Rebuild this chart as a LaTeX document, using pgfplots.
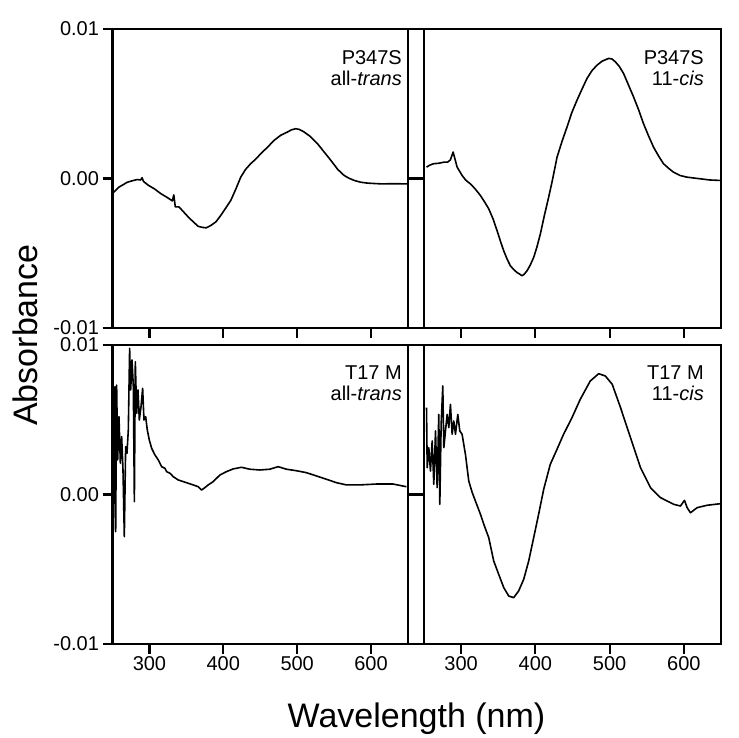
\documentclass[border=0pt]{standalone}
\usepackage{fontspec}
\setmainfont{Liberation Sans}
\usepackage{pgfplots}
\pgfplotsset{compat=1.18}

\pgfplotsset{
  panel/.style={
    scale only axis, height=299pt,
    xmin=250, xmax=650, ymin=-0.01, ymax=0.01,
    xtick={300,400,500,600}, ytick={-0.01,0,0.01},
    scaled y ticks=false,
    tick align=outside, major tick length=10pt,
    xtick pos=bottom,
    axis line style={line width=2.8pt},
    tick style={line width=2.2pt, black},
    tick label style={font=\fontsize{20}{24}\selectfont},
    xticklabel style={inner sep=2pt},
  },
  leftpanel/.style={panel, width=295.5pt, ytick pos=both, yticklabel pos=left,
    yticklabels={-0.01,0.00,0.01}},
  rightpanel/.style={panel, width=297pt, ytick pos=left, yticklabels={}},
  trace/.style={black, line width=1.6pt, line join=round},
}
\tikzset{
  tag/.style={anchor=north east, align=right, inner sep=0pt,
    font=\fontsize{20}{21}\selectfont},
  frame/.style={line width=2.8pt, line join=miter},
}

\begin{document}
\begin{tikzpicture}[x=1pt, y=1pt]
\useasboundingbox (0,0) rectangle (739,738);

% top left: P347S all-trans
\begin{axis}[leftpanel, name=tl, at={(112.5pt,410pt)}, anchor=south west, xticklabels={}]
\addplot[trace] coordinates {
(251.8,-0.00092) (258.6,-0.00058) (265,-0.00040) (270,-0.00025) (277,-0.00015)
(283.5,-0.00007) (288,-0.00010) (290,0.00005) (292,-0.00020) (299,-0.00047)
(307,-0.0007) (315,-0.001) (325,-0.0013) (331,-0.0015) (333,-0.0011)
(335,-0.0019) (340,-0.0019) (346.7,-0.00226) (353,-0.0026) (360,-0.00293)
(366,-0.0032) (371.6,-0.00327) (377,-0.0033) (382.9,-0.00315) (390,-0.0029)
(396.4,-0.00248) (403,-0.002) (410,-0.00148) (417,-0.0007) (423.6,0.00009)
(430,0.0006) (437,0.00099) (444,0.0013) (450.7,0.00166) (460,0.0021)
(468.7,0.00255) (478,0.0029) (486.9,0.00311) (492,0.00325) (498,0.00333)
(503,0.00328) (509.4,0.00311) (518,0.0028) (527.5,0.00233) (536,0.0018)
(545.6,0.00121) (555,0.0006) (563.6,0.0002) (570,0.00002) (577.2,-0.00013)
(586,-0.00025) (595.3,-0.00031) (613.4,-0.00036) (630,-0.00035) (649.6,-0.00036)
};
\node[tag] at (rel axis cs:1,1) [xshift=-6pt, yshift=-21pt] {P347S\\all-\textit{trans}};
\end{axis}

% top right: P347S 11-cis
\begin{axis}[rightpanel, name=tr, at={(424pt,410pt)}, anchor=south west, xticklabels={}]
\addplot[trace] coordinates {
(253.4,0.00076) (258,0.0009) (263.2,0.00099) (270,0.00102) (276.6,0.00109)
(282,0.0011) (285.6,0.00125) (289.2,0.00177) (294.6,0.00076) (301.4,0.0002)
(306,-0.0001) (312.5,-0.00036) (319,-0.0007) (326,-0.00114) (332,-0.0016)
(337.2,-0.00203) (343,-0.0027) (348.4,-0.00349) (353,-0.0042) (357.3,-0.00483)
(362,-0.0054) (366.3,-0.00584) (371,-0.0061) (375.3,-0.00629) (379,-0.0064)
(382,-0.00651) (385,-0.0064) (388.8,-0.00617) (393,-0.0058) (397.7,-0.00528)
(402,-0.0046) (406.7,-0.00371) (412,-0.0025) (417.9,-0.00125) (423,-0.0001)
(429.2,0.00143) (436,0.0025) (442.6,0.00344) (449,0.0044) (456,0.00523)
(463,0.006) (469.5,0.00669) (476,0.0072) (483,0.00758) (490,0.00785)
(498.6,0.00803) (503,0.008) (507.6,0.00781) (513,0.0075) (518.7,0.00703)
(525,0.0063) (532.2,0.00546) (539,0.0046) (545.6,0.00367) (552,0.0029)
(559.1,0.0021) (566,0.0015) (572.5,0.00099) (579,0.0007) (586,0.00042)
(595,0.0002) (604,0.00009) (621.9,-0.00002) (635,-0.0001) (648.8,-0.00013)
};
\node[tag] at (rel axis cs:1,1) [xshift=-17pt, yshift=-21pt] {P347S\\11-\textit{cis}};
\end{axis}

% bottom left: T17 M all-trans
\begin{axis}[leftpanel, name=bl, at={(112.5pt,94pt)}, anchor=south west,
  xticklabels={300,400,500,600}]
\addplot[trace] coordinates {
(250.2,0.0032) (251.1,-0.00237) (252.4,0.00342) (253.4,0.00721) (254.3,-0.00249)
(255.6,0.00732) (257,0.00231) (258.8,0.0052) (260.6,0.00209) (262.4,0.00387)
(264.2,0.00164) (266,-0.00282) (267.8,0.0032) (269.6,0.00276) (271.4,0.00431)
(273.2,0.00978) (274.6,0.00699) (276.4,0.009) (278.2,0.00721) (279.6,-0.00048)
(280.9,0.00888) (282.7,0.00543) (284.5,0.00699) (286.3,0.00498) (288.6,0.00587)
(290.8,0.0071) (292.6,0.00498) (294.9,0.0052) (297.1,0.00431) (299.8,0.00365)
(303,0.00309) (307.5,0.00264) (312,0.00231) (316.5,0.00186) (321,0.00175)
(323.3,0.00153) (327.8,0.00142) (332.3,0.00119) (339,0.00097) (345.8,0.00086)
(352.6,0.00075) (359.3,0.00064) (366.1,0.00052) (370.6,0.0003) (373.7,0.00041)
(379.6,0.00064) (386.3,0.00086) (395.3,0.0013) (404.3,0.00153) (413.3,0.00171)
(424.6,0.00182) (435.9,0.00169) (449.4,0.00164) (462.9,0.00169) (474.2,0.00186)
(485.5,0.00169) (499,0.00159) (512.5,0.00146) (526.1,0.00124) (539.6,0.00102)
(553.1,0.00079) (566.7,0.00064) (584.7,0.00064) (607.3,0.0007) (629.8,0.0007)
(647.8,0.00052)
};
\node[tag] at (rel axis cs:1,1) [xshift=-6pt, yshift=-21pt] {T17 M\\all-\textit{trans}};
\end{axis}

% bottom right: T17 M 11-cis
\begin{axis}[rightpanel, name=br, at={(424pt,94pt)}, anchor=south west,
  xticklabels={300,400,500,600}]
\addplot[trace] coordinates {
(253.4,0.00581) (254.3,0.00179) (256.5,0.00313) (258.7,0.00157) (261,0.00358)
(263.2,0.00068) (265.5,0.00425) (267.7,0.00046) (269.9,0.00536) (271.3,-0.00066)
(273.1,0.0047) (275.3,0.00726) (276.7,0.00313) (278.9,0.00425) (281.2,0.00536)
(283.4,0.00447) (285.6,0.00603) (287.9,0.00403) (290.1,0.00492) (292.4,0.00403)
(295.5,0.00536) (298.2,0.00425) (301.3,0.00403) (305.8,0.00269) (310.3,0.0009)
(314.8,0.00015) (319.2,-0.00043) (326,-0.00132) (330.5,-0.00199) (337.2,-0.00289)
(343.9,-0.00445) (350.6,-0.00534) (357.4,-0.00623) (364.1,-0.00679) (370.8,-0.0069)
(377.5,-0.00645) (384.3,-0.00567) (391,-0.00445) (397.7,-0.00289) (404.4,-0.00132)
(411.2,0.00035) (420.1,0.00202) (429.1,0.00302) (438,0.00403) (449.3,0.00514)
(460.5,0.00637) (473.9,0.00759) (485.2,0.00808) (494.2,0.00793) (503.5,0.00737)
(514.7,0.00581) (528.1,0.0038) (541.6,0.00179) (555,0.00046) (568.5,-0.00021)
(586.5,-0.00066) (595.4,-0.00077) (600.8,-0.00039) (604.4,-0.00088) (608.9,-0.00122)
(617.9,-0.00088) (631.3,-0.00072) (648.4,-0.00062)
};
\node[tag] at (rel axis cs:1,1) [xshift=-17pt, yshift=-21pt] {T17 M\\11-\textit{cis}};
\end{axis}

% heavy frames round the four panels
\foreach \p in {tl,tr,bl,br}
  \draw[frame] (\p.south west) rectangle (\p.north east);

\node[anchor=base, font=\fontsize{34}{40}\selectfont] at (416.5,10) {Wavelength (nm)};
\node[anchor=base, rotate=90, font=\fontsize{34}{40}\selectfont] at (37,403) {Absorbance};
\end{tikzpicture}
\end{document}
